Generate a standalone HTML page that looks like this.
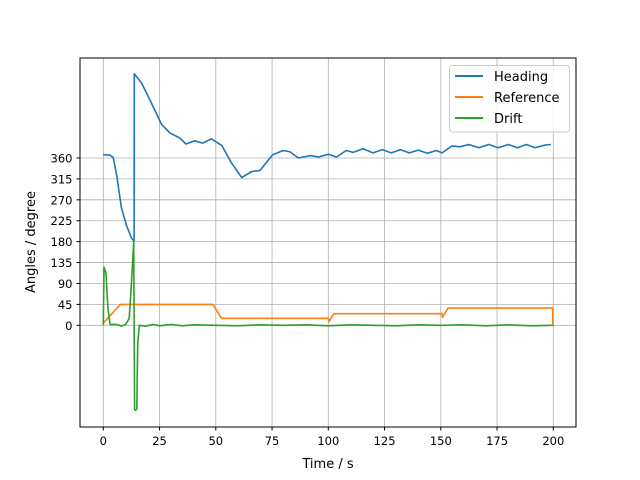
<!DOCTYPE html>
<html><head><meta charset="utf-8"><style>
body{margin:0;background:#fff}
svg{display:block;font-family:"DejaVu Sans","Liberation Sans",sans-serif}
</style></head><body>
<svg id="chart" width="640" height="480" viewBox="0 0 640 480">
<rect width="640" height="480" fill="#fff"/>
<g id="grid"></g>
<g id="series"></g>
<rect x="80" y="58" width="496" height="369" fill="none" stroke="#000" stroke-width="1"/>
<g id="ticks"></g>
<text x="328" y="468" font-size="13" text-anchor="middle">Time / s</text>
<text transform="translate(35,242) rotate(-90)" font-size="13" text-anchor="middle">Angles / degree</text>
<g>
<rect x="449.5" y="65.5" width="120" height="66.5" rx="3" fill="#fff" fill-opacity="0.8" stroke="#ccc"/>
<line x1="455" y1="76" x2="483" y2="76" stroke="#1f77b4" stroke-width="2"/>
<text x="494" y="81" font-size="13">Heading</text>
<line x1="455" y1="97" x2="483" y2="97" stroke="#ff7f0e" stroke-width="2"/>
<text x="494" y="102" font-size="13">Reference</text>
<line x1="455" y1="118" x2="483" y2="118" stroke="#2ca02c" stroke-width="2"/>
<text x="494" y="123" font-size="13">Drift</text>
</g>
</svg>
<script>
const xTicks=[0,25,50,75,100,125,150,175,200];
const yTicks=[0,45,90,135,180,225,270,315,360];
const headingT=[0,3,4.4,5.9,8.1,10.3,12.5,13.7,13.8,17,20.7,25.9,29.6,34,36.7,40.7,44.1,48.1,52.6,57,61.5,66,69.6,75.3,80,83,86.7,91.9,95.6,100,103.7,108,111,115.4,119.9,124,128,132,136,140,144,148,150.6,155,158.5,162.4,166.9,171.3,175.5,180,184,188,192,196.5,199];
const headingV=[367,366,361,324,252,215,188,181,541,521,485,432,414,403,390,397,392,401,387,349,318,331,333,367,376,373,360,365,362,368,362,376,372,380,371,378,371,378,371,377,370,376,371,386,384,389,382,389,382,389,382,389,382,388,389];
const refT=[0,7.6,48.7,52.5,100,100.3,102.5,150.5,150.8,153.2,199.7,199.8];
const refV=[5,45,45,15,15,8,25,25,17,37,37,0];
const driftT=[0,0.3,1.2,2,3,6,8,10,11.5,12.5,13.5,13.9,14.2,14.9,15.3,16,19,22,25,30,35,40,50,60,70,80,90,100,110,120,130,140,150,160,170,180,190,200];
const driftV=[0,125,112,40,2,2,-2,2,15,90,180,-180,-183,-180,-40,0,-2,2,-1,2,-1,1,0,-1,1,0,1,-1,1,0,-1,1,0,1,-1,1,-1,0];
const X=t=>103.3+t*2.25;
const Y=v=>325.3-v*0.4648;
const ns="http://www.w3.org/2000/svg";
const grid=document.getElementById('grid'),ticks=document.getElementById('ticks'),ser=document.getElementById('series');
function mk(tag,attrs,parent){const e=document.createElementNS(ns,tag);for(const k in attrs)e.setAttribute(k,attrs[k]);parent.appendChild(e);return e;}
xTicks.forEach(t=>{
 const l=mk('line',{x1:X(t),x2:X(t),y1:58,y2:427,stroke:'#b0b0b0','stroke-width':0.8},grid);
 
 
 const tk=mk('line',{x1:X(t),x2:X(t),y1:427,y2:430.5,stroke:'#000'},ticks);
 
 
 const tx=mk('text',{x:X(t),y:445,'font-size':11.5,'text-anchor':'middle'},ticks);tx.textContent=t;
 
 
});
yTicks.forEach(v=>{
 const l=mk('line',{x1:80,x2:576,y1:Y(v),y2:Y(v),stroke:'#b0b0b0','stroke-width':0.8},grid);
 
 
 const tk=mk('line',{x1:76.5,x2:80,y1:Y(v),y2:Y(v),stroke:'#000'},ticks);
 
 
 const tx=mk('text',{x:72.5,y:Y(v)+4.5,'font-size':11.5,'text-anchor':'end'},ticks);tx.textContent=v;
 
 
});
function line(ts,vs,color,name){
 const d=ts.map((t,i)=>(i?'L':'M')+X(t).toFixed(1)+' '+Y(vs[i]).toFixed(1)).join(' ');
 const p=mk('path',{d:d,fill:'none',stroke:color,'stroke-width':1.6,'stroke-linejoin':'round'},ser);
 
 
}
line(headingT,headingV,'#1f77b4','heading-line');
line(refT,refV,'#ff7f0e','reference-line');
line(driftT,driftV,'#2ca02c','drift-line');
</script>
</body></html>
